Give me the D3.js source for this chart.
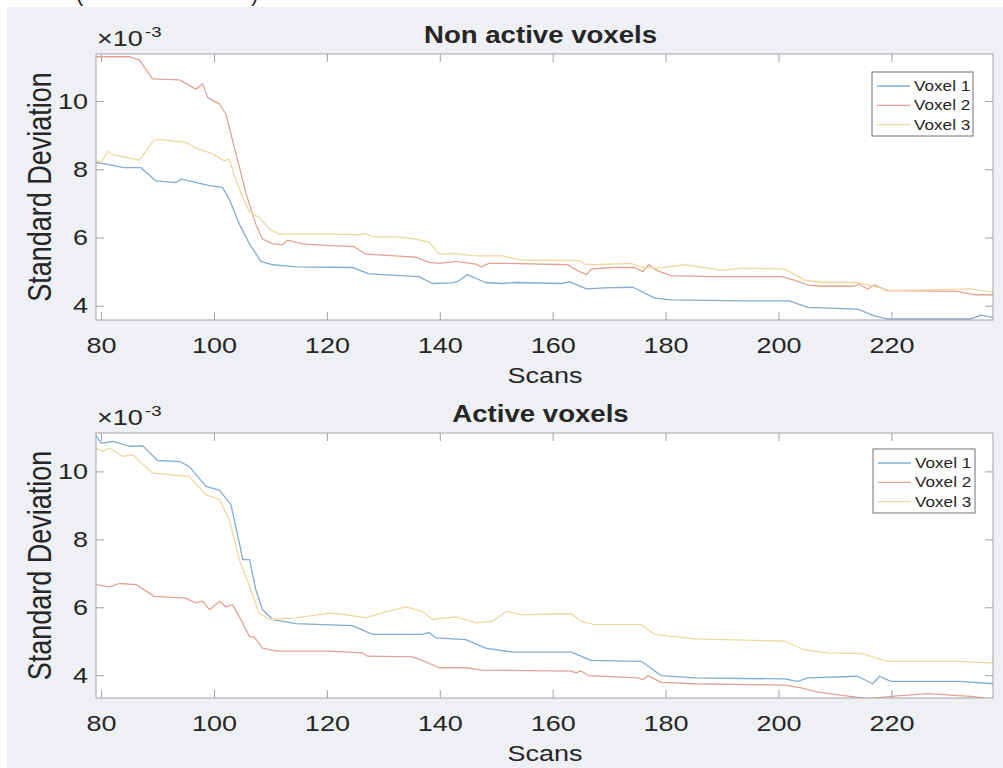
<!DOCTYPE html>
<html>
<head>
<meta charset="utf-8">
<script src="https://cdn.jsdelivr.net/npm/d3@7"></script>
<style>
  body { margin: 0; background: #fff; }
  svg text { font-family: "Liberation Sans", Arial, Helvetica, sans-serif; fill: #262626; }
</style>
</head>
<body>
<div id="chart"></div>
<script>
// Figure size and the horizontal stretch seen in the reference text
const WIDTH = 1003;
const HEIGHT = 768;
const SX = 1.2;

const SERIES_NAMES = ["Voxel 1", "Voxel 2", "Voxel 3"];
const SERIES_COLORS = ["#82add0", "#e0a592", "#f0d9a0"];
const X_TICKS = [80, 100, 120, 140, 160, 180, 200, 220];
const Y_TICKS = [4, 6, 8, 10];

// Non active voxels (values in units of 1e-3)
const naScans1 = [79, 81, 84, 87, 89.7, 93.3, 94.2, 96.2, 99.2, 101.5, 102.7, 104.5, 106.3, 108.3, 110.4, 114.5, 124.5, 127.5, 136.3, 138.7, 142.2, 143.4, 144.9, 148.1, 151.1, 153.5, 161.5, 163, 166, 169.2, 174.2, 178.1, 181, 194, 201.9, 205.2, 214, 217, 219.3, 234.1, 235.9, 238];
const naValues1 = [8.20, 8.15, 8.05, 8.05, 7.66, 7.61, 7.71, 7.64, 7.52, 7.47, 7.13, 6.39, 5.81, 5.30, 5.20, 5.14, 5.12, 4.93, 4.85, 4.65, 4.67, 4.73, 4.91, 4.68, 4.65, 4.68, 4.65, 4.70, 4.49, 4.52, 4.54, 4.22, 4.17, 4.14, 4.14, 3.95, 3.90, 3.70, 3.61, 3.61, 3.72, 3.65];
const naScans2 = [79, 85, 86.8, 89.1, 93.9, 96.8, 98, 98.9, 101, 102.1, 103.9, 105.7, 107.4, 108.6, 110.4, 112.2, 113, 115.7, 120.4, 124.8, 126.9, 132.2, 135.8, 138.1, 139.9, 142.8, 146.4, 147.3, 148.7, 152.3, 162.7, 164.5, 166, 166.8, 170.4, 174.5, 176, 177, 178.6, 181, 188.1, 200.5, 202.2, 205.2, 207.5, 213.4, 214.3, 215.8, 217, 219.3, 231.7, 234.7, 238];
const naValues2 = [11.30, 11.30, 11.20, 10.65, 10.62, 10.35, 10.50, 10.10, 9.91, 9.62, 8.45, 7.27, 6.39, 5.95, 5.81, 5.79, 5.92, 5.81, 5.76, 5.73, 5.51, 5.46, 5.42, 5.27, 5.24, 5.30, 5.22, 5.14, 5.24, 5.24, 5.20, 5.02, 4.91, 5.07, 5.12, 5.12, 5.00, 5.20, 5.02, 4.88, 4.85, 4.85, 4.78, 4.61, 4.57, 4.57, 4.63, 4.49, 4.61, 4.44, 4.42, 4.32, 4.32];
const naScans3 = [79, 80, 81.2, 82.1, 86.8, 89.4, 90.9, 95, 96.8, 99.8, 101.8, 102.7, 103.9, 105.1, 106.3, 108, 109.8, 111.6, 120.4, 125.7, 126.9, 128.1, 132.2, 135.8, 138.1, 139.9, 142.2, 146.4, 151.1, 154.1, 164.8, 165.7, 167.4, 173.9, 175.7, 178.6, 183.4, 189.8, 194, 201.1, 204.6, 207.5, 214, 217.6, 219.9, 234.1, 238];
const naValues3 = [8.27, 8.20, 8.52, 8.43, 8.27, 8.86, 8.86, 8.79, 8.62, 8.45, 8.25, 8.30, 7.66, 7.17, 6.74, 6.59, 6.25, 6.10, 6.10, 6.08, 6.12, 6.02, 6.02, 5.95, 5.86, 5.51, 5.53, 5.46, 5.46, 5.34, 5.32, 5.22, 5.20, 5.24, 5.12, 5.10, 5.20, 5.04, 5.10, 5.07, 4.75, 4.68, 4.68, 4.54, 4.44, 4.49, 4.39];

// Active voxels (values in units of 1e-3)
const acScans1 = [79, 80, 82.1, 85, 87.4, 90, 93.9, 95.6, 98.6, 101, 103, 104.5, 105.1, 106.3, 107.4, 108.6, 110.4, 114.5, 124.5, 128.1, 136.9, 138.1, 139.3, 144.6, 148.1, 152.9, 163.3, 166.8, 175.7, 179.2, 185.1, 201.1, 203.4, 205.2, 214, 216.7, 217.9, 219.9, 232.3, 238];
const acValues1 = [11.08, 10.83, 10.88, 10.74, 10.75, 10.32, 10.29, 10.15, 9.56, 9.44, 9.02, 7.89, 7.40, 7.40, 6.52, 5.93, 5.64, 5.52, 5.46, 5.20, 5.20, 5.26, 5.10, 5.05, 4.80, 4.68, 4.68, 4.44, 4.41, 3.99, 3.92, 3.89, 3.82, 3.92, 3.97, 3.75, 3.97, 3.82, 3.82, 3.75];
const acScans2 = [79, 81.5, 83.2, 86.2, 89.4, 95, 96.8, 98, 99.2, 101, 102.1, 103.3, 105.1, 106.3, 107.1, 108.6, 111, 120.4, 126.3, 127.2, 135.2, 136.9, 139.9, 144.6, 147.5, 163.3, 164.2, 165, 166.3, 175.1, 176, 176.9, 179.2, 185.1, 201.1, 204, 207, 211.7, 215.8, 219.9, 226.4, 234.1, 238];
const acValues2 = [6.67, 6.60, 6.70, 6.67, 6.32, 6.27, 6.13, 6.18, 5.93, 6.18, 6.01, 6.08, 5.54, 5.13, 5.13, 4.80, 4.71, 4.71, 4.66, 4.56, 4.54, 4.44, 4.22, 4.22, 4.15, 4.12, 4.07, 4.13, 3.99, 3.92, 3.87, 3.99, 3.79, 3.75, 3.71, 3.63, 3.50, 3.40, 3.31, 3.38, 3.46, 3.38, 3.29];
const acScans3 = [79, 80.3, 81.5, 83.8, 85.6, 89.1, 95.6, 98.6, 101, 102.7, 104.5, 106.3, 108, 109.8, 114.5, 120.4, 123.4, 126.9, 129.3, 134, 136.9, 138.7, 142.8, 146.4, 149.3, 151.9, 154.6, 163.3, 165, 167.4, 175.7, 178.1, 185.1, 201.1, 204.6, 208.7, 214.6, 219.3, 231.7, 238];
const acValues3 = [10.69, 10.59, 10.69, 10.44, 10.49, 9.95, 9.85, 9.31, 9.17, 8.58, 7.40, 6.62, 5.83, 5.64, 5.69, 5.83, 5.78, 5.69, 5.81, 6.01, 5.88, 5.64, 5.72, 5.54, 5.59, 5.88, 5.78, 5.81, 5.59, 5.49, 5.49, 5.20, 5.07, 5.00, 4.75, 4.66, 4.64, 4.41, 4.41, 4.36];

const panels = [
  {
    id: "na",
    title: "Non active voxels",
    box: { left: 96, right: 993, top: 54, bottom: 320 },
    yDomain: [3.58, 11.38],
    scans: [naScans1, naScans2, naScans3],
    values: [naValues1, naValues2, naValues3],
    legend: { x: 872, y: 72, w: 101, h: 64 }
  },
  {
    id: "ac",
    title: "Active voxels",
    box: { left: 96, right: 993, top: 433, bottom: 698 },
    yDomain: [3.33, 11.13],
    scans: [acScans1, acScans2, acScans3],
    values: [acValues1, acValues2, acValues3],
    legend: { x: 873, y: 449, w: 102, h: 64 }
  }
];

const svg = d3.select("#chart").append("svg")
  .attr("width", WIDTH)
  .attr("height", HEIGHT);

svg.append("rect").attr("width", WIDTH).attr("height", HEIGHT).attr("fill", "#ffffff");
svg.append("rect")
  .attr("x", 7).attr("y", 7)
  .attr("width", WIDTH - 7).attr("height", HEIGHT - 7)
  .attr("fill", "#eef0f3");

// cut-off caption above the figure
svg.append("text").attr("x", 76).attr("y", 0.5).attr("font-size", 22).text("(");
svg.append("text").attr("x", 251).attr("y", 0.5).attr("font-size", 22).text(")");

// stretched text helper
function addText(parent, x, y, str, size, opts = {}) {
  const g = parent.append("g")
    .attr("transform", `translate(${x},${y}) scale(${SX},1)` + (opts.rotate ? ` rotate(${opts.rotate})` : ""));
  return g.append("text")
    .attr("font-size", size)
    .attr("font-weight", opts.bold ? "bold" : "normal")
    .attr("text-anchor", opts.anchor || "start")
    .text(str);
}

panels.forEach((p) => drawPanel(p));

function drawPanel(p) {
  const b = p.box;
  const w = b.right - b.left;
  const h = b.bottom - b.top;

  const xscale = d3.scaleLinear().domain([79.1, 238]).range([0, w]);
  const yscale = d3.scaleLinear().domain(p.yDomain).range([h, 0]);

  const group = svg.append("g").attr("transform", `translate(${b.left}, ${b.top})`);

  group.append("rect").attr("width", w).attr("height", h).attr("fill", "#ffffff");

  group.append("clipPath").attr("id", `clip-${p.id}`)
    .append("rect").attr("width", w).attr("height", h);

  const line = d3.line()
    .x((d) => xscale(d[0]))
    .y((d) => yscale(d[1]));

  const lines = group.append("g").attr("clip-path", `url(#clip-${p.id})`);
  p.scans.forEach((sc, i) => {
    const pts = sc.map((s, j) => [s, p.values[i][j]]);
    lines.append("path")
      .datum(pts)
      .attr("d", line)
      .attr("fill", "none")
      .attr("stroke", SERIES_COLORS[i])
      .attr("stroke-width", 1.3)
      .attr("stroke-linejoin", "round");
  });

  // axes, ticks pointing inward like MATLAB
  const axisColor = "#a3a3a3";
  const xBottom = group.append("g").attr("class", "x-axis")
    .attr("transform", `translate(0, ${h})`)
    .call(d3.axisBottom(xscale).tickValues(X_TICKS).tickSize(-8).tickPadding(17).tickSizeOuter(0));
  const xTop = group.append("g")
    .call(d3.axisTop(xscale).tickValues(X_TICKS).tickSize(-8).tickFormat("").tickSizeOuter(0));
  const yLeft = group.append("g").attr("class", "y-axis")
    .call(d3.axisLeft(yscale).tickValues(Y_TICKS).tickSize(-8).tickPadding(8 / SX).tickSizeOuter(0));
  const yRight = group.append("g")
    .attr("transform", `translate(${w}, 0)`)
    .call(d3.axisRight(yscale).tickValues(Y_TICKS).tickSize(-8).tickFormat("").tickSizeOuter(0));

  [xBottom, xTop, yLeft, yRight].forEach((ax) => {
    ax.select(".domain").remove();
    ax.selectAll("line").attr("stroke", axisColor);
  });
  [xBottom, yLeft].forEach((ax) => {
    ax.selectAll("text")
      .attr("font-size", 22.5)
      .attr("fill", "#262626")
      .attr("font-family", "Liberation Sans, Arial, sans-serif")
      .attr("transform", `scale(${SX},1)`);
  });

  group.append("rect")
    .attr("width", w).attr("height", h)
    .attr("fill", "none")
    .attr("stroke", axisColor)
    .attr("stroke-width", 1);

  // title, labels and exponent
  addText(svg, (b.left + b.right) / 2 - 4, b.top - 11, p.title, 23, { bold: true, anchor: "middle" });
  addText(svg, 545, b.bottom + 63, "Scans", 22.5, { anchor: "middle" });
  addText(svg, 51, (b.top + b.bottom) / 2, "Standard Deviation", 27, { anchor: "middle", rotate: -90 });
  addText(svg, 97, b.top - 8, "\u00d710", 22.5);
  addText(svg, 145, b.top - 17, "-3", 15.5);

  // legend
  const lg = p.legend;
  const legend = svg.append("g").attr("transform", `translate(${lg.x}, ${lg.y})`);
  legend.append("rect")
    .attr("width", lg.w).attr("height", lg.h)
    .attr("fill", "#ffffff")
    .attr("stroke", "#707070")
    .attr("stroke-width", 1);
  SERIES_NAMES.forEach((name, i) => {
    const cy = 14 + i * 19.3;
    legend.append("line")
      .attr("x1", 5).attr("x2", 38)
      .attr("y1", cy).attr("y2", cy)
      .attr("stroke", SERIES_COLORS[i])
      .attr("stroke-width", 1.3);
    addText(legend, 42, cy + 5, name, 14.3);
  });
}
</script>
</body>
</html>
